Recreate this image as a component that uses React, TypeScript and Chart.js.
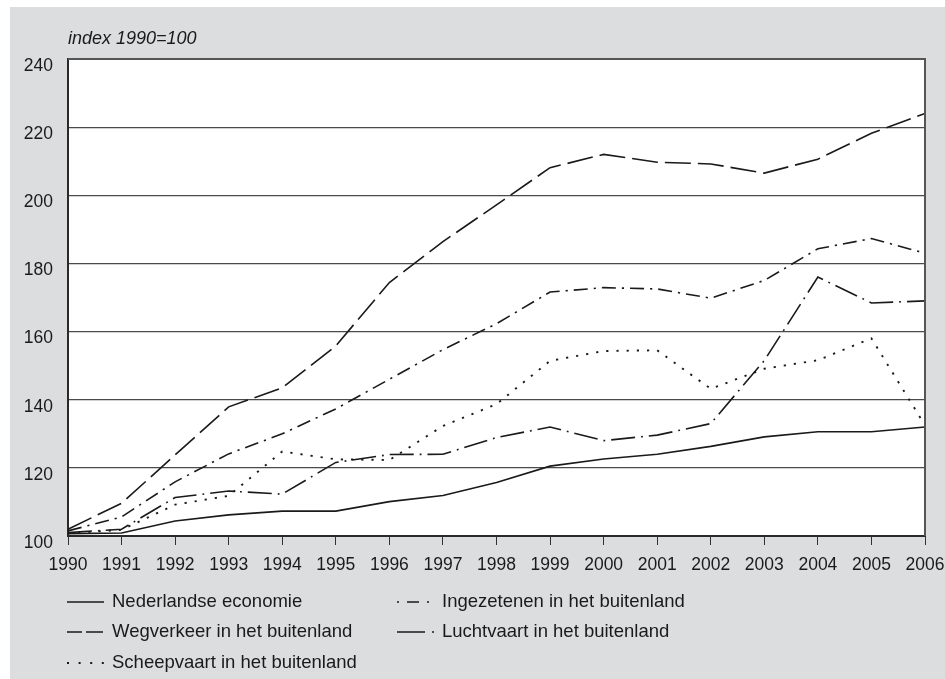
import React, { useEffect, useRef } from "react";
import { Chart, registerables } from "chart.js";

Chart.register(...registerables);

const years = ["1990","1991","1992","1993","1994","1995","1996","1997","1998","1999","2000","2001","2002","2003","2004","2005","2006"];

const nederlandseEconomie = [100.7, 100.9, 104.4, 106.2, 107.3, 107.3, 110.1, 111.9, 115.7, 120.5, 122.6, 124.0, 126.3, 129.1, 130.6, 130.6, 132.0];
const wegverkeer = [102.0, 109.6, 123.8, 137.9, 143.5, 155.8, 174.4, 186.4, 197.2, 208.1, 212.0, 209.7, 209.2, 206.5, 210.6, 218.2, 224.0];
const scheepvaart = [100.8, 101.8, 109.2, 111.8, 124.8, 122.5, 122.3, 132.3, 138.7, 151.4, 154.3, 154.5, 143.2, 149.1, 151.6, 158.0, 132.5];
const ingezetenen = [101.5, 105.6, 115.9, 124.1, 130.0, 137.3, 146.0, 154.7, 162.3, 171.6, 172.9, 172.5, 169.8, 175.0, 184.3, 187.3, 183.0];
const luchtvaart = [101.0, 102.0, 111.3, 113.2, 112.3, 121.6, 123.9, 124.0, 128.9, 132.0, 128.0, 129.6, 133.0, 151.5, 176.0, 168.4, 169.0];

const seriesNames = [
  "Nederlandse economie",
  "Wegverkeer in het buitenland",
  "Scheepvaart in het buitenland",
  "Ingezetenen in het buitenland",
  "Luchtvaart in het buitenland",
];
const seriesValues = [nederlandseEconomie, wegverkeer, scheepvaart, ingezetenen, luchtvaart];

const yTicks = [100, 120, 140, 160, 180, 200, 220, 240];
const yTitle = "index 1990=100";

// styles (not data)
const lineDashes: number[][] = [[], [26, 7], [2.2, 8], [14, 6, 2.2, 6], [24, 6, 1.8, 6]];
const lineWidths = [1.6, 1.6, 1.9, 1.6, 1.6];
const legendDashes: number[][] = [[], [15, 4, 17, 200], [2, 9.6], [2, 8, 12, 8, 2, 200], [28, 7, 2, 200]];

const FONT = '"Liberation Sans", Arial, Helvetica, sans-serif';
const INK = "#1a1a1a";
const BG_GRAY = "rgb(220,221,223)";

const framePlugin = {
  id: "framePlugin",
  beforeDraw(chart: any) {
    const { ctx, chartArea, width, height } = chart;
    ctx.save();
    ctx.fillStyle = "#ffffff";
    ctx.fillRect(0, 0, width, height);
    ctx.fillStyle = BG_GRAY;
    ctx.fillRect(10, 7, width - 10, height - 7);
    ctx.fillStyle = "#ffffff";
    ctx.fillRect(chartArea.left, chartArea.top, chartArea.right - chartArea.left, chartArea.bottom - chartArea.top);
    ctx.restore();
  },
  afterDraw(chart: any) {
    const { ctx, chartArea } = chart;
    ctx.save();
    // frame top/right
    ctx.strokeStyle = "#555555";
    ctx.lineWidth = 2;
    ctx.beginPath();
    ctx.moveTo(chartArea.left, chartArea.top);
    ctx.lineTo(chartArea.right, chartArea.top);
    ctx.lineTo(chartArea.right, chartArea.bottom);
    ctx.stroke();

    // y title
    ctx.fillStyle = INK;
    ctx.font = `italic 18px ${FONT}`;
    ctx.textAlign = "left";
    ctx.textBaseline = "middle";
    ctx.fillText(yTitle, chartArea.left, 39);

    // legend: 2 columns, 3 rows
    const colX = [chartArea.left - 1, chartArea.left + 329];
    const rowY = [602, 632, 663];
    const sampleLen = 37;
    ctx.font = `18.5px ${FONT}`;
    seriesNames.forEach((name, i) => {
      const col = Math.floor(i / 3);
      const row = i % 3;
      const x = colX[col];
      const y = rowY[row];
      ctx.strokeStyle = INK;
      ctx.lineWidth = i === 2 ? 1.8 : 1.5;
      ctx.setLineDash(legendDashes[i]);
      ctx.beginPath();
      ctx.moveTo(x, y);
      ctx.lineTo(x + sampleLen, y);
      ctx.stroke();
      ctx.setLineDash([]);
      ctx.fillStyle = INK;
      ctx.fillText(name, x + sampleLen + 8, y);
    });
    ctx.restore();
  },
};

export default function App() {
  const ref = useRef<HTMLCanvasElement | null>(null);
  useEffect(() => {
    if (!ref.current) return;
    const chart = new Chart(ref.current, {
      type: "line",
      data: {
        labels: years,
        datasets: seriesValues.map((vals, i) => ({
          label: seriesNames[i],
          data: vals,
          borderColor: INK,
          borderWidth: lineWidths[i],
          borderDash: lineDashes[i],
          pointRadius: 0,
          fill: false,
          tension: 0,
        })),
      },
      options: {
        responsive: false,
        animation: false,
        layout: { padding: { left: 0, right: 20, top: 59, bottom: 103 } },
        plugins: {
          legend: { display: false },
          title: { display: false },
          tooltip: { enabled: false },
        },
        scales: {
          x: {
            offset: false,
            grid: { drawOnChartArea: false, drawTicks: true, tickLength: 9, color: "#333333", lineWidth: 1 },
            border: { display: true, color: "#2a2a2a", width: 2 },
            ticks: { color: INK, font: { family: FONT, size: 17.5 }, padding: 10, maxRotation: 0, autoSkip: false },
            afterFit: (scale: any) => {
              scale.height = 40;
              scale.paddingLeft = 0;
              scale.paddingRight = 0;
            },
          },
          y: {
            min: 100,
            max: 240,
            afterBuildTicks: (scale: any) => { scale.ticks = yTicks.map((v) => ({ value: v })); },
            grid: { color: "#4a4a4a", lineWidth: 1.2, drawTicks: false },
            border: { display: true, color: "#2a2a2a", width: 2 },
            ticks: { color: INK, font: { family: FONT, size: 17.5 }, padding: 15, labelOffset: 7 },
            afterFit: (scale: any) => {
              scale.width = 68;
              scale.paddingTop = 0;
              scale.paddingBottom = 0;
            },
          },
        },
      },
      plugins: [framePlugin],
    });
    return () => chart.destroy();
  }, []);
  return (
    <div style={{ position: "fixed", left: 0, top: 0, width: 945, height: 679 }}>
      <canvas ref={ref} width={945} height={679} style={{ display: "block" }} />
    </div>
  );
}
